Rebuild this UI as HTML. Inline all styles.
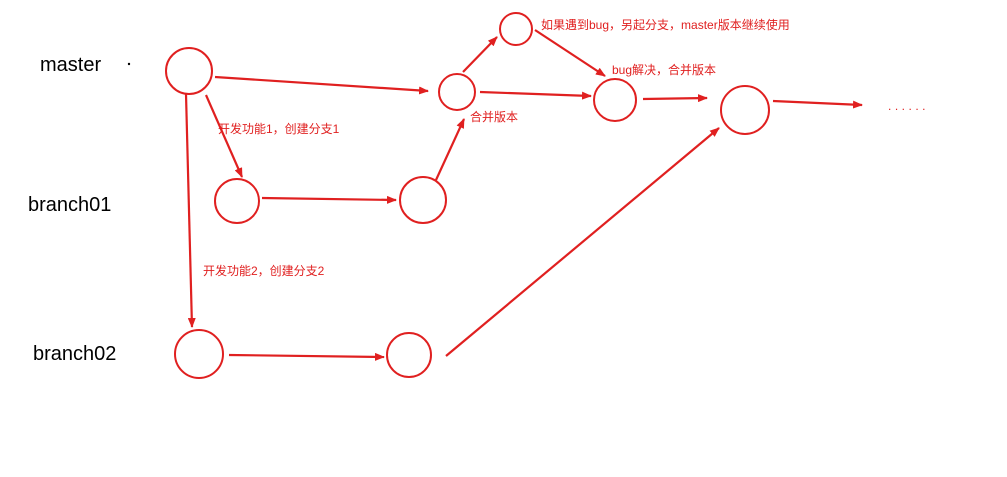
<!DOCTYPE html>
<html><head><meta charset="utf-8"><style>
body{margin:0;background:#fff;width:1007px;height:477px;overflow:hidden}
svg{display:block}
.lb{font-family:"Liberation Sans","Noto Sans CJK SC",sans-serif;font-size:20px;fill:#000}
.sm{font-family:"Liberation Sans","Noto Sans CJK SC",sans-serif;font-size:12px;fill:#e02020}
</style></head><body>
<svg width="1007" height="477" viewBox="0 0 1007 477">
<defs><marker id="a" markerWidth="10" markerHeight="8" refX="9" refY="4" orient="auto" markerUnits="userSpaceOnUse"><path d="M0,0 L10,4 L0,8 Z" fill="#e02020"/></marker></defs>
<g fill="none" stroke="#e02020" stroke-width="2">
<circle cx="189" cy="71" r="23"/>
<circle cx="457" cy="92" r="18"/>
<circle cx="516" cy="29" r="16"/>
<circle cx="615" cy="100" r="21"/>
<circle cx="745" cy="110" r="24"/>
<circle cx="237" cy="201" r="22"/>
<circle cx="423" cy="200" r="23"/>
<circle cx="199" cy="354" r="24"/>
<circle cx="409" cy="355" r="22"/>
</g>
<g stroke="#e02020" stroke-width="2.2" marker-end="url(#a)">
<line x1="215" y1="77" x2="428" y2="91"/>
<line x1="206" y1="95" x2="242" y2="177"/>
<line x1="186" y1="94" x2="192" y2="327"/>
<line x1="262" y1="198" x2="396" y2="200"/>
<line x1="436" y1="180" x2="464" y2="119"/>
<line x1="463" y1="72" x2="497" y2="37"/>
<line x1="480" y1="92" x2="591" y2="96"/>
<line x1="535" y1="30" x2="605" y2="76"/>
<line x1="643" y1="99" x2="707" y2="98"/>
<line x1="773" y1="101" x2="862" y2="105"/>
<line x1="229" y1="355" x2="384" y2="357"/>
<line x1="446" y1="356" x2="719" y2="128"/>
</g>
<text class="lb" x="40" y="71">master</text>
<text class="lb" x="28" y="211">branch01</text>
<text class="lb" x="33" y="360">branch02</text>
<circle cx="129" cy="64" r="1.2" fill="#000"/>
<text class="sm" x="541" y="29">如果遇到bug，另起分支，master版本继续使用</text>
<text class="sm" x="612" y="74">bug解决，合并版本</text>
<text class="sm" x="470" y="121">合并版本</text>
<text class="sm" x="218" y="133">开发功能1，创建分支1</text>
<text class="sm" x="203" y="275">开发功能2，创建分支2</text>
<text class="sm" x="888" y="110" letter-spacing="3.5">......</text>
</svg>
</body></html>
